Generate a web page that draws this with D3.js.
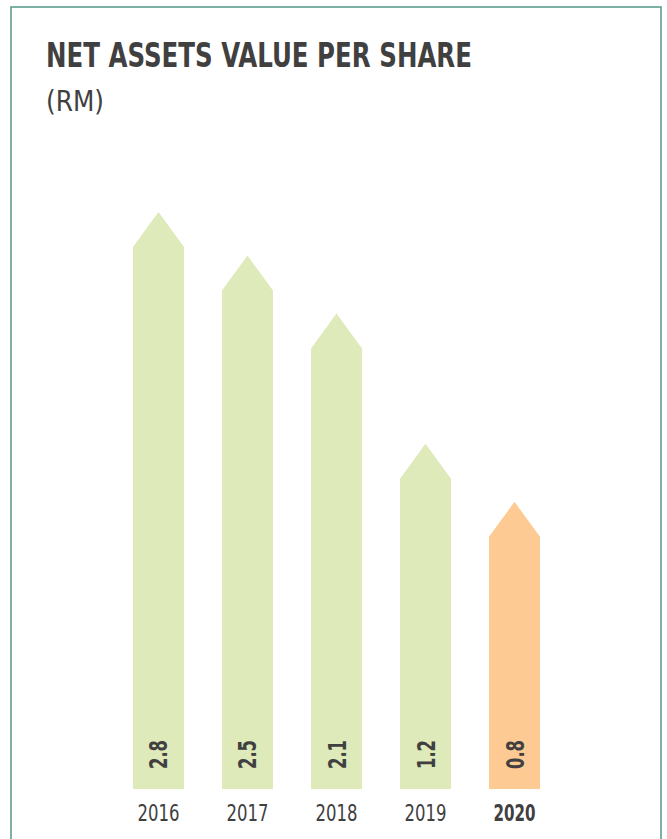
<!DOCTYPE html>
<html>
<head>
<meta charset="utf-8">
<script src="https://cdn.jsdelivr.net/npm/d3@7"></script>
<style>
  html, body { margin: 0; padding: 0; background: #fff; }
  svg { display: block; }
  text { font-family: "DejaVu Sans Condensed", "DejaVu Sans", sans-serif; font-stretch: condensed; fill: #404040; }
</style>
</head>
<body>
<svg id="chart" width="667" height="839"></svg>
<script>
const years = ["2016", "2017", "2018", "2019", "2020"];
const values = [2.8, 2.5, 2.1, 1.2, 0.8];
const valueLabels = ["2.8", "2.5", "2.1", "1.2", "0.8"];
const highlightYear = "2020";
const titleText = "NET ASSETS VALUE PER SHARE";
const unitText = "(RM)";

const svg = d3.select("#chart");

// panel border
svg.append("rect")
  .attr("x", 11).attr("y", 7)
  .attr("width", 650).attr("height", 850)
  .attr("fill", "none")
  .attr("stroke", "#5f9d8e")
  .attr("stroke-width", 1.6);

svg.append("text")
  .attr("x", 46).attr("y", 67)
  .attr("font-size", 33).attr("font-weight", "bold")
  .attr("textLength", 426).attr("lengthAdjust", "spacingAndGlyphs")
  .text(titleText);

svg.append("text")
  .attr("x", 46).attr("y", 111)
  .attr("font-size", 29)
  .attr("textLength", 58).attr("lengthAdjust", "spacingAndGlyphs")
  .text(unitText);

const bottom = 789;
const x = d3.scaleBand().domain(years).range([133, 540]).paddingInner(0.427).paddingOuter(0);
const y = d3.scaleLinear().domain([-0.94, 2.8]).range([bottom, 247]);
const tip = 35;

const data = years.map((yr, i) => ({ year: yr, value: values[i], label: valueLabels[i] }));

svg.append("g").selectAll("path").data(data).join("path")
  .attr("d", d => {
    const x0 = x(d.year), x1 = x0 + x.bandwidth(), xm = (x0 + x1) / 2;
    const ys = y(d.value);
    return `M${x0},${bottom}L${x0},${ys}L${xm},${ys - tip}L${x1},${ys}L${x1},${bottom}Z`;
  })
  .attr("fill", d => d.year === highlightYear ? "#fdca93" : "#deeab9");

svg.append("g").selectAll("text").data(data).join("text")
  .attr("transform", d => `translate(${x(d.year) + x.bandwidth() / 2},769) rotate(-90)`)
  .attr("dy", "0.36em")
  .attr("text-anchor", "start")
  .attr("font-size", 25).attr("font-weight", "bold")
  .attr("textLength", 29).attr("lengthAdjust", "spacingAndGlyphs")
  .text(d => d.label);

svg.append("g").selectAll("text").data(data).join("text")
  .attr("x", d => x(d.year) + x.bandwidth() / 2)
  .attr("y", 821)
  .attr("text-anchor", "middle")
  .attr("font-size", 23.5)
  .attr("font-weight", d => d.year === highlightYear ? "bold" : "normal")
  .attr("textLength", 42).attr("lengthAdjust", "spacingAndGlyphs")
  .text(d => d.year);
</script>
</body>
</html>
